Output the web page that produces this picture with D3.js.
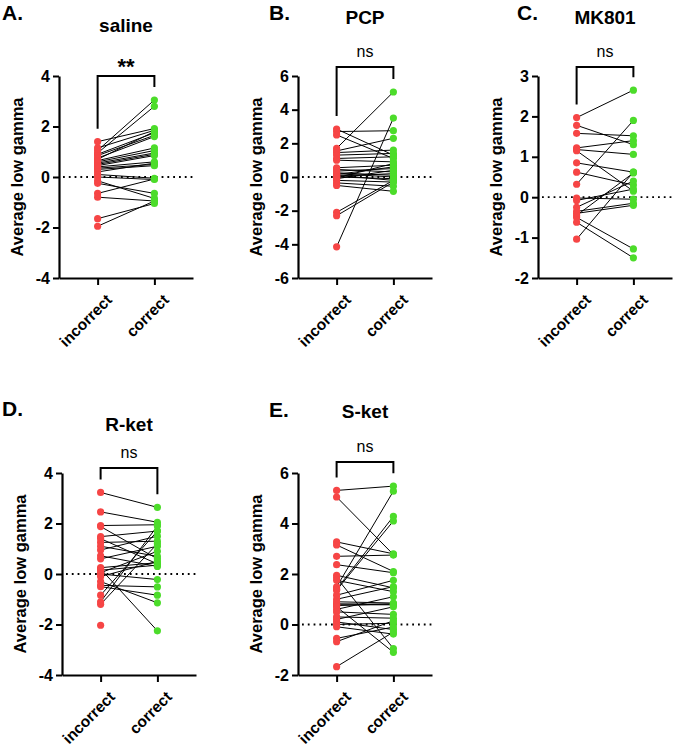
<!DOCTYPE html>
<html>
<head>
<meta charset="utf-8">
<script src="https://cdn.jsdelivr.net/npm/d3@7"></script>
<style>
  body { margin: 0; background: #fff; }
  svg { font-family: Arial, "Liberation Sans", sans-serif; }
</style>
</head>
<body>
<div id="chart"></div>
<script>
// paired values: incorrect vs correct trials, per drug
const salineIncorrect = [1.40, 1.05, 0.95, 1.15, 0.90, 0.85, 0.75, 0.70, 0.65, 0.60, 0.55, 0.50, 0.45, 0.40, 0.35, 0.30, 0.20, 0.10, 0.00, -0.15, -0.25, -0.65, -0.80, -1.65, -1.95];
const salineCorrect   = [1.92, 3.05, 2.80, 1.85, 1.75, 1.65, 1.60, 1.80, 1.15, 1.05, 0.95, 0.90, 0.85, 0.60, 0.50, 0.45, 0.55, -0.05, -0.10, -0.85, -0.65, -0.08, -0.95, -1.05, -0.95];

const pcpIncorrect = [2.85, 2.70, 2.50, 1.70, 1.55, 1.45, 1.30, 1.10, 1.00, 0.55, 0.45, 0.35, 0.25, 0.20, 0.15, 0.10, 0.05, 0.00, -0.05, -0.10, -0.20, -0.35, -0.50, -2.10, -2.30, -4.15];
const pcpCorrect   = [1.30, 2.75, 1.10, 5.05, 2.30, 1.60, 1.40, 1.20, 0.90, 0.70, 0.30, 0.50, 0.10, 0.00, 0.60, -0.20, 0.20, -0.10, 0.80, 0.40, -0.30, -0.55, -0.85, -0.20, -0.30, 3.50];

const mk801Incorrect = [1.97, 1.78, 1.58, 1.22, 1.18, 1.15, 0.85, 0.62, 0.32, -0.02, -0.08, -0.25, -0.35, -0.45, -0.50, -0.62, -0.40, -1.04];
const mk801Correct   = [2.65, 1.30, 1.52, 1.40, 1.06, 0.15, 0.62, 0.30, 1.90, -0.05, 0.20, 0.40, -0.15, 0.60, -1.28, -1.50, -0.20, 0.62];

const rketIncorrect = [3.23, 2.46, 1.92, 1.88, 1.48, 1.40, 1.25, 1.10, 0.95, 0.72, 0.60, 0.25, 0.20, 0.15, 0.05, 0.00, -0.10, -0.30, -0.45, -0.50, -0.84, -1.10, -1.20, -2.03];
const rketCorrect   = [2.64, 2.05, 1.95, 0.60, 1.70, 0.40, 1.30, 0.70, 1.50, 0.30, 1.10, 0.45, -2.25, 0.35, 0.90, -0.22, 0.50, -1.14, -0.51, -0.84, 1.70, 1.90, 1.20, null];

const sketIncorrect = [5.31, 5.05, 3.27, 3.15, 2.70, 2.37, 1.95, 1.85, 1.75, 1.49, 1.40, 1.36, 1.16, 1.00, 0.90, 0.82, 0.78, 0.75, 0.70, 0.60, 0.50, 0.30, 0.20, 0.10, 0.00, -0.09, -0.55, -0.68, -1.67];
const sketCorrect   = [5.48, 2.77, 2.80, 2.10, 2.75, 2.05, 1.45, -0.95, 1.30, 5.28, 4.28, 4.10, 1.75, 1.50, 0.85, 0.80, 0.78, 0.82, -1.10, 1.10, 0.40, 0.25, 0.70, -0.20, 0.05, -0.38, -0.10, 0.15, -0.30];

const conditions = ['incorrect', 'correct'];
const yLabel = 'Average low gamma';

const panels = [
  {letter: 'A.', title: 'saline', sig: '**', inc: salineIncorrect, cor: salineCorrect, domain: [-4, 4], step: 2},
  {letter: 'B.', title: 'PCP',    sig: 'ns', inc: pcpIncorrect,    cor: pcpCorrect,    domain: [-6, 6], step: 2},
  {letter: 'C.', title: 'MK801',  sig: 'ns', inc: mk801Incorrect,  cor: mk801Correct,  domain: [-2, 3], step: 1},
  {letter: 'D.', title: 'R-ket',  sig: 'ns', inc: rketIncorrect,   cor: rketCorrect,   domain: [-4, 4], step: 2},
  {letter: 'E.', title: 'S-ket',  sig: 'ns', inc: sketIncorrect,   cor: sketCorrect,   domain: [-2, 6], step: 2}
];

// where each panel sits on the page
const layout = [
  {x0: 59,  yTop: 76,  yBot: 278, letterX: 2,   letterY: 20,  titleY: 32,  bracketTop: 76},
  {x0: 298, yTop: 76,  yBot: 278, letterX: 269, letterY: 20,  titleY: 24,  bracketTop: 67},
  {x0: 538, yTop: 76,  yBot: 278, letterX: 517, letterY: 20,  titleY: 24,  bracketTop: 67},
  {x0: 62,  yTop: 473, yBot: 675, letterX: 2,   letterY: 416, titleY: 431, bracketTop: 468},
  {x0: 298, yTop: 473, yBot: 675, letterX: 269, letterY: 417, titleY: 418, bracketTop: 462}
];

const red = '#f64545';
const green = '#4cdc2a';
const plotW = 134;

const svg = d3.select('#chart').append('svg')
  .attr('width', 675)
  .attr('height', 751);

panels.forEach((p, i) => {
  const L = layout[i];
  const g = svg.append('g');

  const x = d3.scalePoint()
    .domain(conditions)
    .range([L.x0, L.x0 + plotW])
    .padding(0.68);

  const y = d3.scaleLinear()
    .domain(p.domain)
    .range([L.yBot, L.yTop]);

  // panel letter + title
  g.append('text')
    .attr('x', L.letterX).attr('y', L.letterY)
    .attr('font-size', 21).attr('font-weight', 'bold')
    .text(p.letter);
  g.append('text')
    .attr('x', L.x0 + 67).attr('y', L.titleY)
    .attr('text-anchor', 'middle')
    .attr('font-size', 19).attr('font-weight', 'bold')
    .text(p.title);

  // dotted zero line
  g.append('line')
    .attr('x1', L.x0 + 4).attr('x2', L.x0 + plotW)
    .attr('y1', y(0)).attr('y2', y(0))
    .attr('stroke', '#000')
    .attr('stroke-width', 1.8)
    .attr('stroke-dasharray', '1.8,4')
    .attr('stroke-linecap', 'butt');

  // y axis
  const ticks = d3.range(p.domain[0], p.domain[1] + p.step / 2, p.step);
  const yAxis = g.append('g')
    .attr('transform', `translate(${L.x0},0)`)
    .call(d3.axisLeft(y).tickValues(ticks).tickSize(6).tickSizeOuter(0).tickPadding(3)
      .tickFormat(d => String(d)));

  // x axis
  const xAxis = g.append('g')
    .attr('transform', `translate(0,${L.yBot})`)
    .call(d3.axisBottom(x).tickSize(7).tickSizeOuter(0));

  [yAxis, xAxis].forEach(a => {
    a.select('.domain').attr('stroke-width', 2.2);
    a.selectAll('.tick line').attr('stroke-width', 2);
    a.selectAll('text')
      .attr('font-size', 16).attr('font-weight', 'bold')
      .attr('font-family', 'Arial, "Liberation Sans", sans-serif')
      .attr('fill', '#000');
  });

  xAxis.selectAll('.tick text')
    .attr('font-size', 15.5)
    .attr('text-anchor', 'end')
    .attr('dy', '0.35em')
    .attr('transform', 'translate(4,12) rotate(-45)');

  // y axis title
  g.append('text')
    .attr('transform', `translate(${L.x0 - 36},${(L.yTop + L.yBot) / 2}) rotate(-90)`)
    .attr('text-anchor', 'middle')
    .attr('font-size', 16.5).attr('font-weight', 'bold')
    .text(yLabel);

  // paired lines
  const pairs = p.inc.map((v, k) => ({inc: v, cor: p.cor[k]}));
  g.selectAll('.pair')
    .data(pairs.filter(d => d.cor !== null))
    .enter().append('line')
      .attr('class', 'pair')
      .attr('x1', x('incorrect')).attr('x2', x('correct'))
      .attr('y1', d => y(d.inc)).attr('y2', d => y(d.cor))
      .attr('stroke', '#000')
      .attr('stroke-width', 1);

  // points
  g.selectAll('.inc-dot')
    .data(p.inc)
    .enter().append('circle')
      .attr('class', 'inc-dot')
      .attr('cx', x('incorrect'))
      .attr('cy', d => y(d))
      .attr('r', 3.6)
      .attr('fill', red);

  g.selectAll('.cor-dot')
    .data(p.cor.filter(d => d !== null))
    .enter().append('circle')
      .attr('class', 'cor-dot')
      .attr('cx', x('correct'))
      .attr('cy', d => y(d))
      .attr('r', 3.6)
      .attr('fill', green);

  // significance bracket
  const legInc = y(d3.max(p.inc)) - 13;
  const legCor = y(d3.max(p.cor.filter(d => d !== null))) - 13;
  g.append('path')
    .attr('d', `M${x('incorrect')},${legInc}V${L.bracketTop}H${x('correct')}V${legCor}`)
    .attr('fill', 'none')
    .attr('stroke', '#000')
    .attr('stroke-width', 2);

  const isStars = p.sig === '**';
  g.append('text')
    .attr('x', (x('incorrect') + x('correct')) / 2)
    .attr('y', isStars ? L.bracketTop - 2 : L.bracketTop - 10)
    .attr('text-anchor', 'middle')
    .attr('font-size', isStars ? 22 : 16)
    .attr('font-weight', isStars ? 'bold' : 'normal')
    .text(p.sig);
});
</script>
</body>
</html>
